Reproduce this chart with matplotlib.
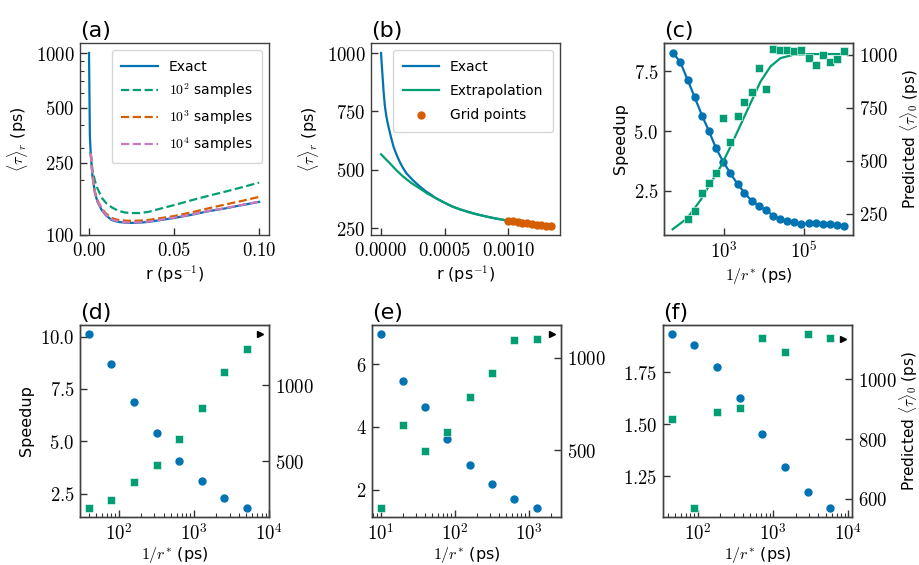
import numpy as np
import matplotlib
matplotlib.use('Agg')
import matplotlib.pyplot as plt
from matplotlib.ticker import FuncFormatter, LogLocator, NullFormatter, NullLocator

plt.rcParams['font.family'] = ['DejaVu Sans']
plt.rcParams['mathtext.fontset'] = 'cm'

BLUE = '#0173b2'
GREEN = '#029e73'
ORANGE = '#d55e00'
PINK = '#cc78bc'

# ---- (a) rate dependence of <tau>_r ----
r_exact_a = [0, 0.0005, 0.001, 0.002, 0.0035, 0.005, 0.0075, 0.01, 0.0133, 0.017, 0.021,
             0.025, 0.03, 0.035, 0.04, 0.05, 0.06, 0.07, 0.08, 0.09, 0.1]
tau_exact_a = [1000, 350, 280, 212, 170, 152, 137, 128, 121, 118, 117,
               116.5, 117, 118, 120, 124, 129, 135, 140, 146, 152]
r_samp = [0.001, 0.002, 0.0035, 0.005, 0.0075, 0.01, 0.0133, 0.017, 0.021, 0.025,
          0.03, 0.035, 0.04, 0.05, 0.06, 0.07, 0.08, 0.09, 0.1]
tau_1e2 = [285, 228, 198, 180, 160, 150, 142, 136, 133, 132,
           132, 134, 138, 146, 155, 164, 173, 183, 194]
tau_1e3 = [282, 215, 173, 155, 140, 131, 124, 121, 120, 119.5,
           120, 121, 123, 127, 133, 140, 147, 154, 162]
tau_1e4 = [281, 213, 171, 153, 138, 129, 122, 119, 117.5, 117,
           117.5, 118.5, 120.5, 124.5, 129.5, 135.5, 140.5, 146.5, 152.5]

# ---- (b) extrapolation ----
r_exact_b = [0, 0.000005, 0.00001, 0.00002, 0.00003, 0.00004, 0.00005, 0.00006, 0.00008,
             0.0001, 0.000125, 0.00015, 0.000175, 0.0002, 0.00025, 0.0003, 0.00035, 0.0004,
             0.00043, 0.0005, 0.00056, 0.00062, 0.00069, 0.00075, 0.00082, 0.00088,
             0.00095, 0.001]
tau_exact_b = [1000, 955, 915, 835, 772, 735, 705, 680, 635,
               595, 560, 530, 505, 484, 455, 430, 408, 390,
               378, 358, 342, 330, 318, 309, 300, 293,
               286, 281]
r_extra = [0, 0.00003, 0.00007, 0.00012, 0.00017, 0.00024, 0.0003, 0.00036, 0.00043, 0.0005,
           0.00056, 0.00062, 0.00069, 0.00075, 0.00082, 0.00088, 0.00095, 0.001]
tau_extra = [566, 549, 527, 498, 472, 442, 421, 399, 378, 358,
             342, 330, 318, 309, 300, 293, 286, 281]
r_grid = [0.00100, 0.001037, 0.001074, 0.001111, 0.001148, 0.001185, 0.001222,
          0.001259, 0.001296, 0.001333]
tau_grid = [281, 278, 275, 272, 270, 267, 265, 262, 260, 258]

# ---- (c) speedup and prediction vs 1/r* ----
inv_r_c = [54, 81, 123, 186, 282, 417, 631, 955, 1445, 2188, 3236, 4898, 7413, 11220,
           16982, 25119, 38019, 57544, 87096, 131826, 199526, 295121, 446684, 676083, 1023293]
speed_c = [8.27, 7.88, 7.15, 6.41, 5.65, 5.02, 4.28, 3.72, 3.23, 2.78, 2.42, 2.08, 1.87,
           1.69, 1.45, 1.31, 1.23, 1.17, 1.10, 1.13, 1.13, 1.09, 1.09, 1.06, 1.03]
pred_c = [128, 225, 264, 347, 398, 445, 704, 591, 712, 775, 822, 937, 838, 1027, 1024,
          1024, 1019, 1024, 984, 953, 1000, 964, 980, 1016]
fit_x_c = [52, 121, 261, 464, 826, 1469, 2612, 4645, 8260, 14690, 26120, 56230, 146900, 1000000]
fit_pred_c = [178, 230, 316, 395, 473, 568, 670, 772, 874, 945, 984, 1000, 1003, 1003]

# ---- (d), (e), (f) ----
inv_r_d = [40, 80, 160, 320, 640, 1280, 2560, 5120]
speed_d = [10.14, 8.70, 6.88, 5.39, 4.07, 3.11, 2.28, 1.80]
pred_d = [193, 248, 364, 476, 649, 849, 1088, 1237]
true_d = (7700, 1338)

inv_r_e = [10, 20, 40, 80, 160, 320, 640, 1280]
speed_e = [6.98, 5.48, 4.63, 3.63, 2.78, 2.16, 1.71, 1.40]
pred_e = [185, 634, 493, 596, 790, 918, 1096, 1100]
true_e = (2100, 1130)

inv_r_f = [45, 90, 180, 360, 720, 1440, 2880, 5760]
speed_f = [1.935, 1.88, 1.776, 1.626, 1.453, 1.293, 1.174, 1.096]
pred_f = [866, 569, 892, 905, 1137, 1092, 1152, 1137]
true_f = (8600, 1133)

TICK = 13.5
LAB = 11.5


def style(ax):
    for s in ax.spines.values():
        s.set_color('0.25')
        s.set_linewidth(1.0)
    ax.tick_params(which='both', direction='in', labelsize=TICK, pad=4, color='0.2')
    ax.tick_params(which='major', length=5, width=1.0)
    ax.tick_params(which='minor', length=3, width=0.8)


def fmt(nd):
    return FuncFormatter(lambda v, p: r'$%.*f$' % (nd, v))


logfmt = FuncFormatter(lambda v, p: r'$10^{%d}$' % round(np.log10(v)))


def panel_label(ax, s):
    ax.text(0.0, 1.012, s, transform=ax.transAxes, ha='left', va='bottom', fontsize=16)


fig = plt.figure(figsize=(9.2, 5.65), dpi=100)
W, H = 920.0, 565.0


def add(x0, top, w=189, h=192):
    return fig.add_axes([x0 / W, (H - top - h) / H, w / W, h / H])


def right_label(a2):
    a2.set_ylabel(r'Predicted $\langle\tau\rangle_0$ (ps)', fontsize=11, labelpad=1)


# (a)
ax = add(80, 43)
style(ax)
ax.plot(r_exact_a, tau_exact_a, color=BLUE, lw=1.6, label='Exact')
ax.plot(r_samp, tau_1e2, color=GREEN, lw=1.6, ls='--', label=r'$10^2$ samples')
ax.plot(r_samp, tau_1e3, color=ORANGE, lw=1.6, ls='--', label=r'$10^3$ samples')
ax.plot(r_samp, tau_1e4, color=PINK, lw=1.6, ls='--', label=r'$10^4$ samples')
ax.set_yscale('log')
ax.set_ylim(100, 1135)
ax.set_xlim(-0.0053, 0.1058)
ax.set_yticks([100, 250, 500, 1000])
ax.yaxis.set_major_formatter(fmt(0))
ax.yaxis.set_minor_locator(LogLocator(subs=np.arange(2, 10)))
ax.yaxis.set_minor_formatter(NullFormatter())
ax.set_xticks([0, 0.05, 0.1])
ax.xaxis.set_major_formatter(fmt(2))
ax.set_xlabel(r'r (ps$^{-1}$)', fontsize=LAB, labelpad=3)
ax.set_ylabel(r'$\langle\tau\rangle_r$ (ps)', fontsize=LAB)
ax.legend(loc='upper right', fontsize=10, handlelength=2.6, labelspacing=0.58,
          borderpad=0.7, edgecolor='0.8', borderaxespad=0.5)
panel_label(ax, '(a)')

# (b)
ax = add(371, 43)
style(ax)
ax.plot(r_exact_b, tau_exact_b, color=BLUE, lw=1.6, label='Exact')
ax.plot(r_extra, tau_extra, color=GREEN, lw=1.6, label='Extrapolation')
ax.plot(r_grid, tau_grid, 'o', color=ORANGE, ms=5, label='Grid points')
ax.set_xlim(-0.000079, 0.001406)
ax.set_ylim(220, 1043)
ax.set_xticks([0, 0.0005, 0.001])
ax.xaxis.set_major_formatter(fmt(4))
ax.set_yticks([250, 500, 750, 1000])
ax.yaxis.set_major_formatter(fmt(0))
ax.set_xlabel(r'r (ps$^{-1}$)', fontsize=LAB, labelpad=3)
ax.set_ylabel(r'$\langle\tau\rangle_r$ (ps)', fontsize=LAB)
ax.legend(loc='upper right', fontsize=10, handlelength=2.6, labelspacing=0.75,
          borderpad=0.7, edgecolor='0.8', borderaxespad=0.5)
panel_label(ax, '(b)')

# (c)
ax = add(664, 43)
style(ax)
ax.plot(inv_r_c, speed_c, '-o', color=BLUE, lw=1.6, ms=5)
ax.set_xscale('log')
ax.set_xlim(31.6, 1.7e6)
ax.set_ylim(0.64, 8.69)
ax.set_xticks([1e3, 1e5])
ax.xaxis.set_major_formatter(logfmt)
ax.xaxis.set_minor_locator(NullLocator())
ax.set_yticks([2.5, 5.0, 7.5])
ax.yaxis.set_major_formatter(fmt(1))
ax.set_xlabel(r'$1/r^{*}$ (ps)', fontsize=LAB, labelpad=3)
ax.set_ylabel('Speedup', fontsize=LAB)
ax2 = ax.twinx()
style(ax2)
ax2.plot(fit_x_c, fit_pred_c, color=GREEN, lw=1.6)
ax2.plot(inv_r_c[1:], pred_c, 's', color=GREEN, ms=5.5, mec='white', mew=0.4)
ax2.set_ylim(151, 1055)
ax2.set_yticks([250, 500, 750, 1000])
ax2.yaxis.set_major_formatter(fmt(0))
right_label(ax2)
panel_label(ax, '(c)')


def scatter_panel(x0, xs, sp, pr, tv, lab, lticks, lnd, rticks, left_lab, right_lab):
    ax = add(x0, 325)
    style(ax)
    ax.plot(xs, sp, 'o', color=BLUE, ms=5)
    ax.set_xscale('log')
    ax.xaxis.set_major_formatter(logfmt)
    ax.xaxis.set_minor_locator(LogLocator(subs=np.arange(2, 10)))
    ax.xaxis.set_minor_formatter(NullFormatter())
    ax.set_yticks(lticks)
    ax.yaxis.set_major_formatter(fmt(lnd))
    ax.set_xlabel(r'$1/r^{*}$ (ps)', fontsize=LAB, labelpad=1)
    if left_lab:
        ax.set_ylabel('Speedup', fontsize=LAB)
    a2 = ax.twinx()
    style(a2)
    a2.plot(xs, pr, 's', color=GREEN, ms=5.5, mec='white', mew=0.4)
    a2.plot([tv[0]], [tv[1]], '>', color='black', ms=5)
    a2.set_yticks(rticks)
    a2.yaxis.set_major_formatter(fmt(0))
    if right_lab:
        right_label(a2)
    panel_label(ax, lab)
    return ax, a2


scatter_panel(80, inv_r_d, speed_d, pred_d, true_d, '(d)', [2.5, 5.0, 7.5, 10.0], 1,
              [500, 1000], True, False)
scatter_panel(372, inv_r_e, speed_e, pred_e, true_e, '(e)', [2, 4, 6], 0,
              [500, 1000], False, False)
scatter_panel(663, inv_r_f, speed_f, pred_f, true_f, '(f)', [1.25, 1.50, 1.75], 2,
              [600, 800, 1000], False, True)

fig.savefig('out.png', dpi=100)
